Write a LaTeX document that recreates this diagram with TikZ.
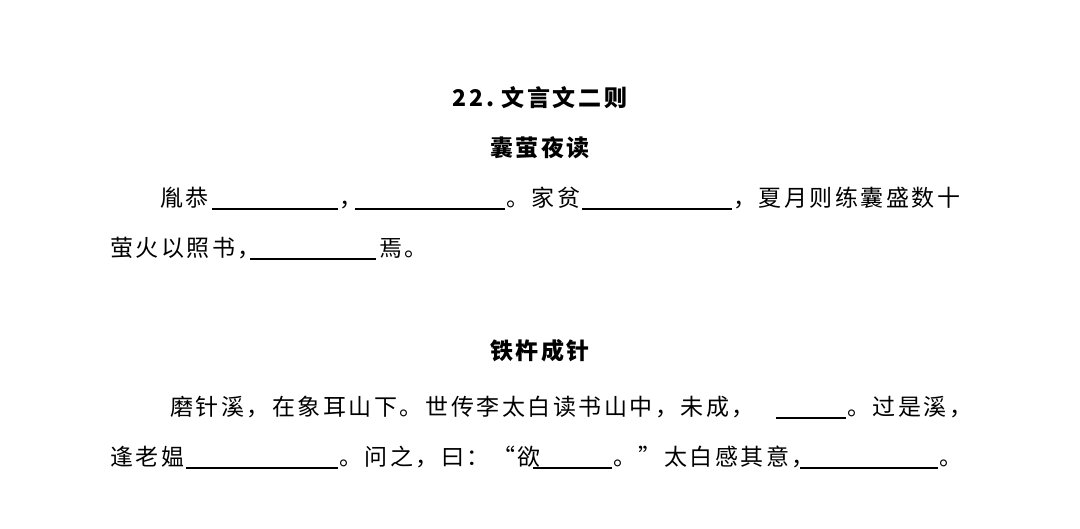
\documentclass[tikz,border=0pt]{standalone}
\usepackage{fontspec}
\newfontfamily\cjk[LetterSpace=11]{Noto Sans CJK SC}
\usetikzlibrary{positioning}
\tikzset{
  txt/.style={anchor=base west, inner sep=0pt, font=\cjk\fontsize{23}{23}\selectfont},
  ttl/.style={anchor=base, inner sep=0pt, font=\cjk\bfseries\fontsize{23}{23}\selectfont},
  blank/.style={line width=1.2pt}
}
\begin{document}
\begin{tikzpicture}[x=1pt,y=-1pt]
\useasboundingbox[fill=white] (0,0) rectangle (1080,528);
% titles
\node[ttl] (title) at (540,106) {22.\ 文言文二则};
\node[ttl] (sub1) at (540,156) {囊萤夜读};
\node[ttl] (sub2) at (540,359) {铁杵成针};
% first text
\node[txt] (a1) at (160,206) {胤恭};
\draw[blank] (212,209) -- (338,209);
\node[txt] (a2) at (339,206) {，};
\draw[blank] (355,209) -- (505,209);
\node[txt] (a3) at (506,206) {。家贫};
\draw[blank] (582,209) -- (732,209);
\node[txt] (a4) at (733,206) {，夏月则练囊盛数十};
\node[txt] (b1) at (110,256) {萤火以照书，};
\draw[blank] (250,259) -- (376,259);
\node[txt] (b2) at (379,256) {焉。};
% second text
\node[txt] (c1) at (170,415) {磨针溪，在象耳山下。世传李太白读书山中，未成，};
\draw[blank] (776,418) -- (846,418);
\node[txt] (c2) at (847,415) {。过是溪，};
\node[txt] (d1) at (110,465) {逢老媪};
\draw[blank] (186,468) -- (338,468);
\node[txt] (d2) at (339,465) {。问之，曰：“欲};
\draw[blank] (533,468) -- (612,468);
\node[txt] (d3) at (613,465) {。”太白感其意，};
\draw[blank] (800,468) -- (938,468);
\node[txt] (d4) at (939,465) {。};
\end{tikzpicture}
\end{document}
